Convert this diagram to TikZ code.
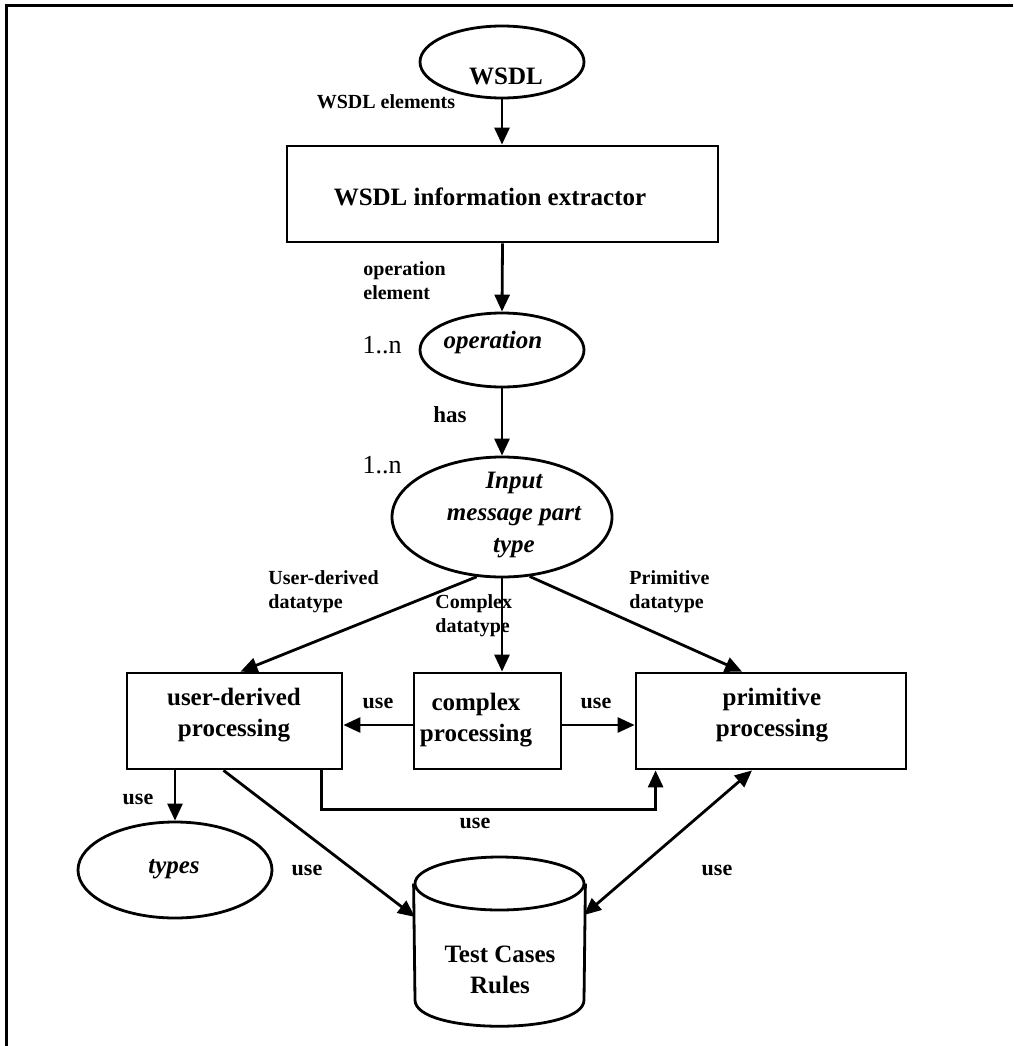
\documentclass[tikz,border=0pt]{standalone}
\usepackage{fontspec}
\setmainfont{Liberation Serif}
\usetikzlibrary{arrows.meta,shapes.geometric}

\begin{document}
\begin{tikzpicture}[x=1pt,y=-1pt, line width=2.8pt,
  tip/.tip={Triangle[length=17pt,width=15pt]},
  arr/.style={-tip},
  darr/.style={tip-tip},
  box/.style={draw, rectangle, inner sep=0pt},
  oval/.style={draw, ellipse, inner sep=0pt},
  big/.style={font=\bfseries\fontsize{25}{31}\selectfont, align=center, inner sep=0pt},
  bigit/.style={big, font=\bfseries\itshape\fontsize{25}{32}\selectfont},
  lbl/.style={font=\bfseries\fontsize{20}{24}\selectfont, align=left, inner sep=0pt, anchor=west},
  uselbl/.style={font=\bfseries\fontsize{22}{26}\selectfont, inner sep=0pt},
  card/.style={font=\fontsize{26}{28}\selectfont, inner sep=0pt}]
\useasboundingbox (0,0) rectangle (1013,1046);

% frame (top and left edges)
\draw[line width=3pt] (6,1046) -- (6,6) -- (1013,6);

% shapes
\node[oval, minimum width=164pt, minimum height=72pt] (wsdl) at (502,62) {};
\node[box, minimum width=431pt, minimum height=96pt] (extr) at (502.5,194) {};
\node[oval, minimum width=164pt, minimum height=74pt] (op) at (502,350) {};
\node[oval, minimum width=220pt, minimum height=120pt] (inp) at (502,517) {};
\node[box, minimum width=215pt, minimum height=96pt] (user) at (234.5,721) {};
\node[box, minimum width=147pt, minimum height=96pt] (cplx) at (487.5,721) {};
\node[box, minimum width=270pt, minimum height=96pt] (prim) at (771,721) {};
\node[oval, minimum width=194pt, minimum height=96pt] (types) at (175,870) {};

% database cylinder
\node[oval, minimum width=169pt, minimum height=53pt] (dbtop) at (499.5,883.5) {};
\draw (dbtop.west) -- (415,1000) .. controls (415,1035) and (584,1035) .. (584,1000) -- (dbtop.east);
\coordinate (dbL) at (415,917);
\coordinate (dbR) at (584,915);

% texts inside shapes
\node[big] (twsdl) at (506,76) {WSDL};
\node[big] (textr) at (490,197) {WSDL information extractor};
\node[bigit] (top) at (493,342) {operation};
\node[bigit] (tinp) at (514,515) {Input\\message part\\type};
\node[big] (tuser) at (234,715) {user-derived\\processing};
\node[big] (tcplx) at (476,720) {complex\\processing};
\node[big] (tprim) at (772,715) {primitive\\processing};
\node[bigit] (ttypes) at (174,869) {types};
\node[big] (tdb) at (500,970) {Test Cases\\Rules};

% connectors
\draw[arr] (wsdl.south) -- (wsdl.south |- extr.north);
\draw[arr] (extr.south) -- (op.north);
\draw[arr] (op.south) -- (inp.north);
\draw[arr] (inp.247) -- ([xshift=6pt]user.north);
\draw[arr] (inp.south) -- (inp.south |- cplx.north);
\draw[arr] (inp.295) -- ([xshift=-29pt]prim.north);
\draw[arr] (cplx.west |- 0,725) -- (user.east |- 0,725);
\draw[arr] (cplx.east |- 0,725) -- (prim.west |- 0,725);
\draw[arr] (types.north |- user.south) -- (types.north);
\draw[arr] ([xshift=-11pt]user.south) -- (dbL);
\draw[arr] ([xshift=-22pt]user.south east) -- ++(0,39) -| ([xshift=21pt]prim.south west);
\draw[darr] ([xshift=-19pt]prim.south) -- (dbR);

% connector labels
\node[lbl, anchor=center] (lwsdl) at (386,102) {WSDL elements};
\node[lbl] (lop) at (362,281) {operation\\element};
\node[card] (n1) at (382,345) {1..n};
\node[card] (n2) at (382,465) {1..n};
\node[uselbl, font=\bfseries\fontsize{23}{26}\selectfont] (lhas) at (450,415) {has};
\node[lbl] (luser) at (267,592) {User-derived\\datatype};
\node[lbl] (lcplx) at (434,616) {Complex\\datatype};
\node[lbl] (lprim) at (628,592) {Primitive\\datatype};
\node[uselbl] (u1) at (378,703) {use};
\node[uselbl] (u2) at (596,703) {use};
\node[uselbl] (u3) at (138,799) {use};
\node[uselbl] (u4) at (307,870) {use};
\node[uselbl] (u5) at (475,823) {use};
\node[uselbl] (u6) at (717,870) {use};
\end{tikzpicture}
\end{document}
